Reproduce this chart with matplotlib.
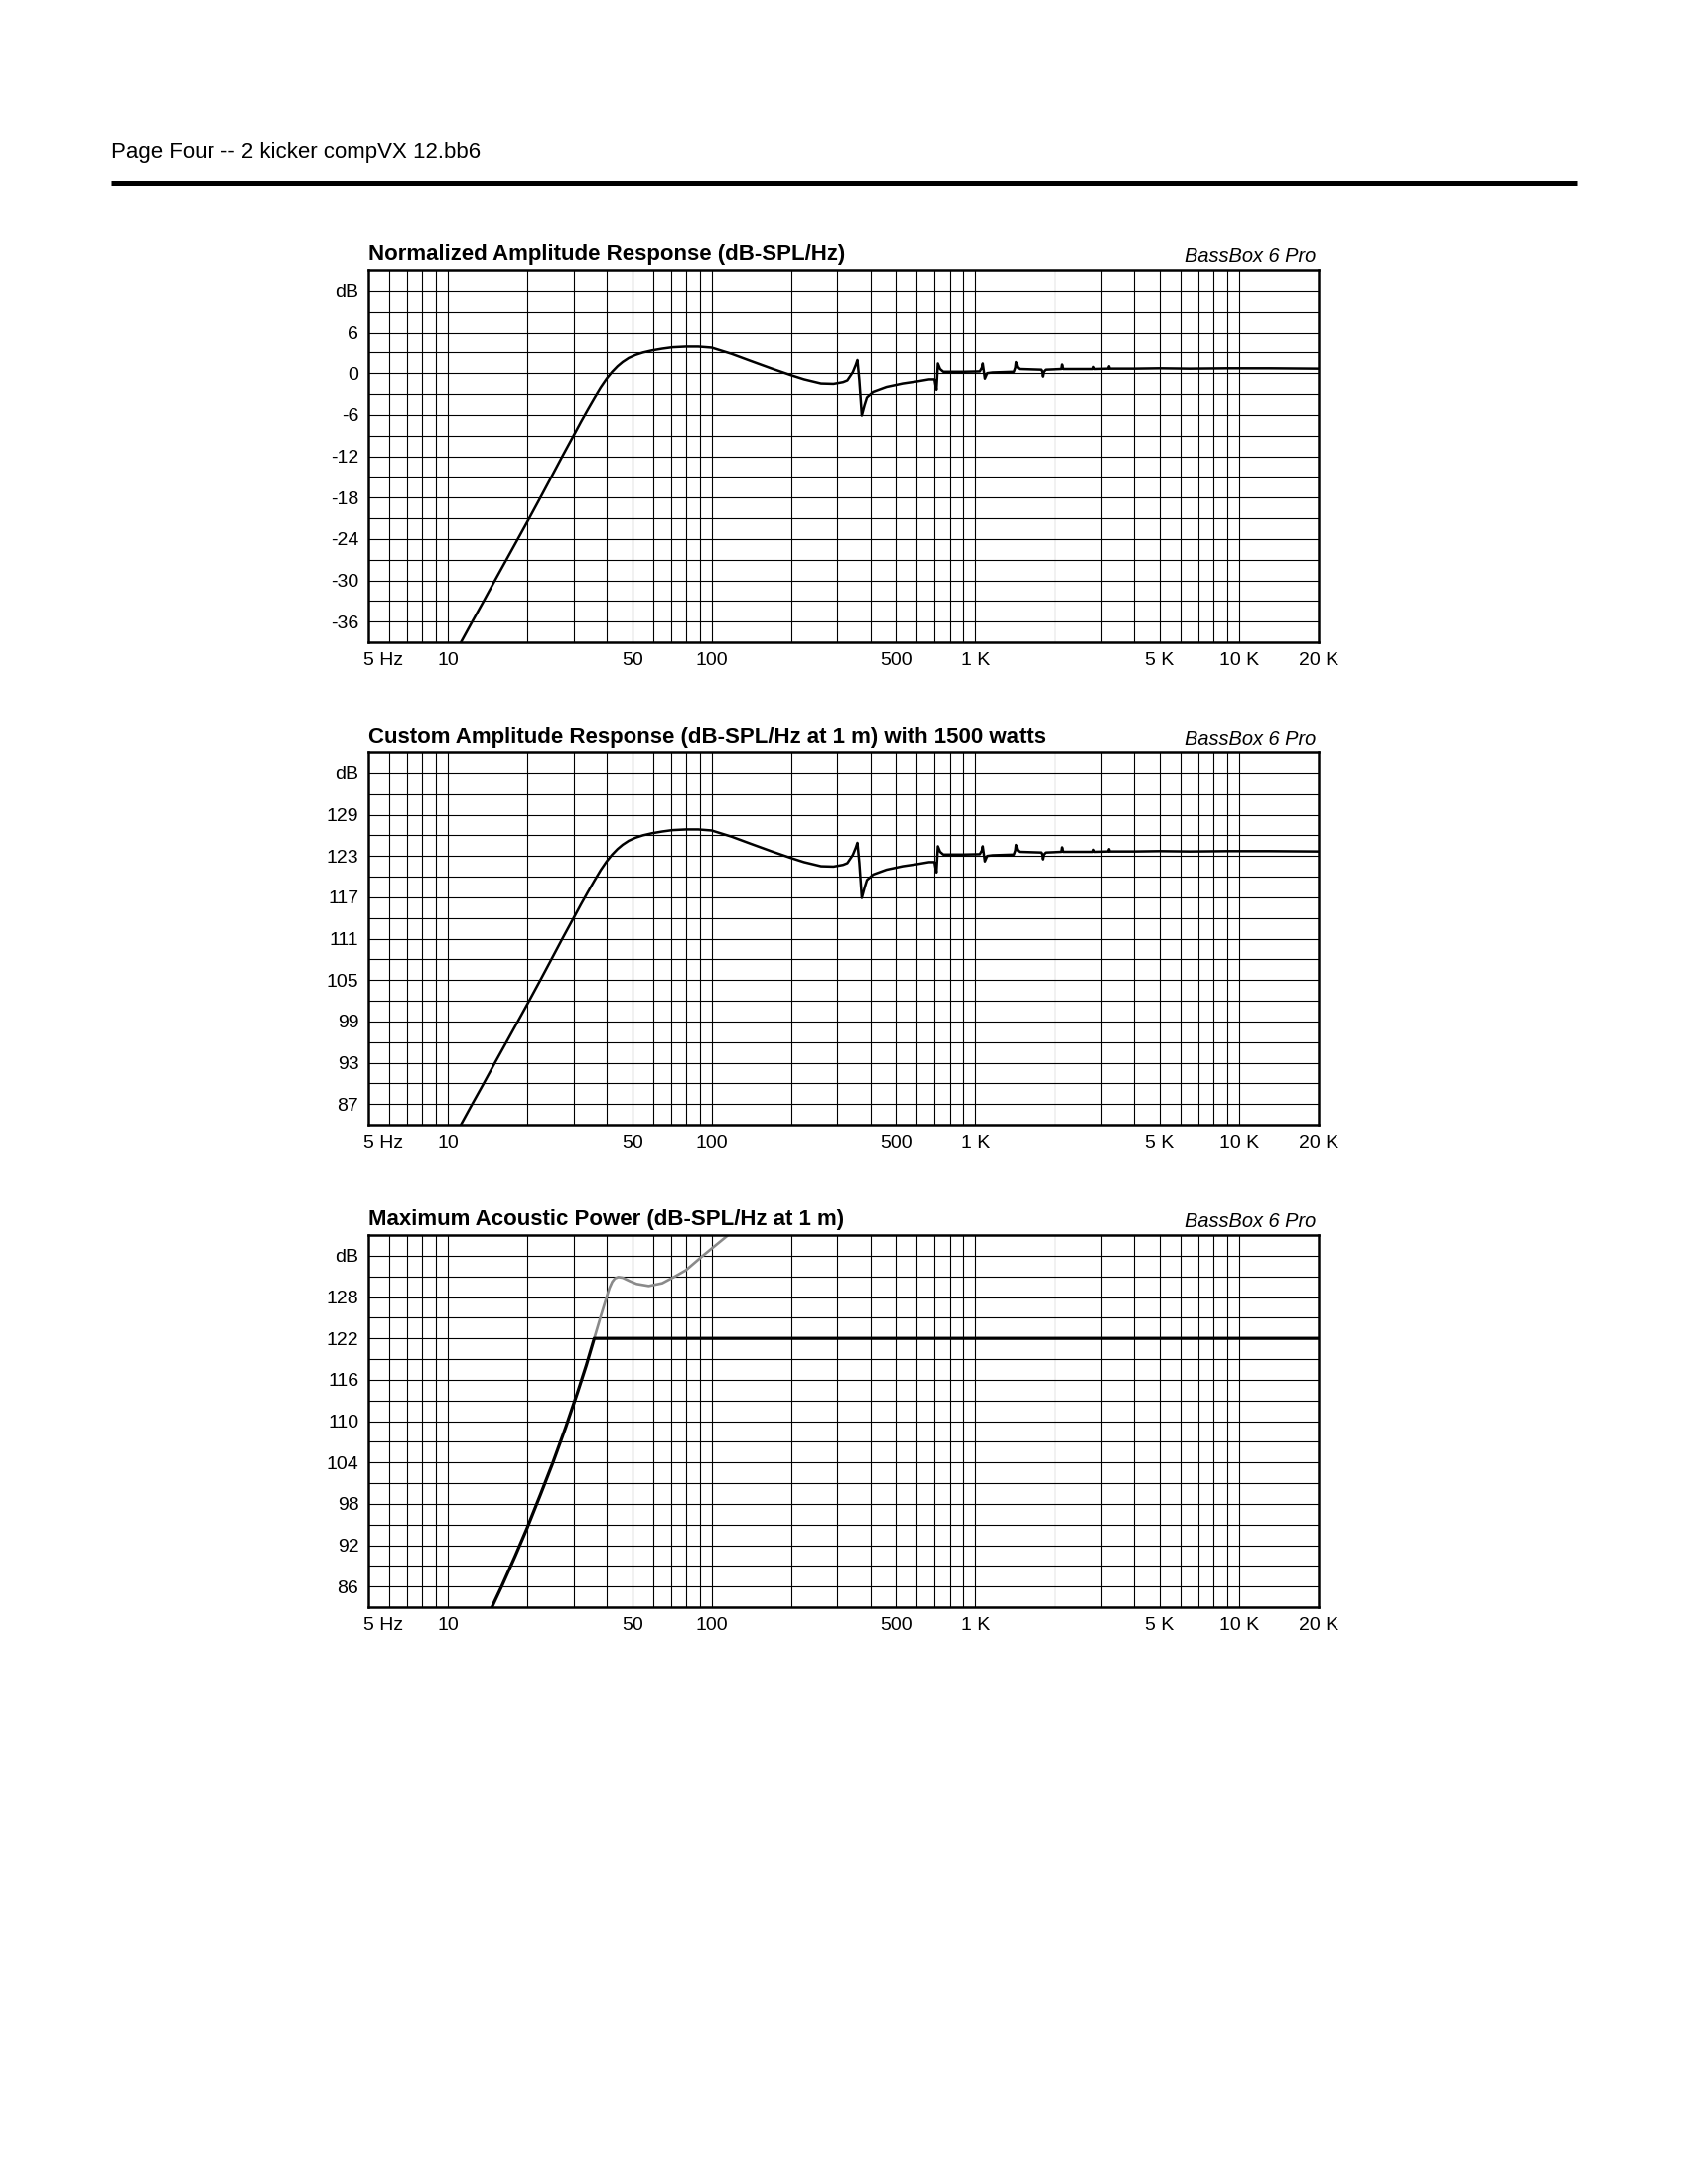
import matplotlib
matplotlib.use("Agg")
import matplotlib.pyplot as plt
from matplotlib.lines import Line2D
from matplotlib.ticker import LogLocator, MultipleLocator, NullFormatter
from matplotlib.transforms import ScaledTranslation

plt.rcParams['font.family'] = ['Liberation Sans', 'DejaVu Sans']

# --- dati ---
# risposta normalizzata (dB-SPL/Hz)
norm_hz = [11.0, 12.3, 13.6, 15.1, 16.8, 18.5, 20.5, 22.6, 24.8, 27.2, 29.8, 32.0,
           34.0, 36.0, 38.0, 40.0, 42.0, 44.0, 46.0, 48.5, 51.5, 55.0, 59.5, 65.0,
           71.0, 80, 89, 100, 119, 140, 168,
           200, 224, 260, 290, 315, 327, 343, 352, 357, 363, 371, 380, 388, 410,
           460, 530, 600, 667, 700, 705, 712, 721, 735, 756, 900, 1040, 1060,
           1067, 1080, 1087, 1110, 1163, 1400, 1418, 1426, 1440, 1466, 1770, 1785,
           1795, 1810, 1840, 2125, 2139, 2160, 2400, 2790, 2805, 2830, 3190, 3207,
           3230, 4000, 5000, 6500, 9000, 13000, 20000]
norm_db = [-39.6, -36.2, -33.2, -30.0, -26.8, -23.9, -20.8, -17.8, -14.9, -12.0, -9.2, -7.0,
           -5.2, -3.55, -2.05, -0.8, 0.2, 1.0, 1.62, 2.2, 2.65, 3.0, 3.3, 3.55,
           3.75, 3.85, 3.85, 3.7, 2.8, 1.8, 0.7,
           -0.3, -0.9, -1.5, -1.55, -1.3, -1.05, 0.15, 1.2, 1.9, -1.0, -6.1, -4.6, -3.5, -2.7,
           -2.0, -1.5, -1.2, -0.9, -0.9, -1.6, -2.4, 1.4, 0.6, 0.2, 0.2, 0.25, 0.8,
           1.4, 0.0, -0.8, 0.0, 0.1, 0.2, 0.8, 1.6, 0.9, 0.6, 0.5, 0.2,
           -0.5, 0.2, 0.5, 0.6, 1.25, 0.6, 0.6, 0.6, 0.9, 0.6, 0.65, 1.0,
           0.65, 0.65, 0.7, 0.65, 0.7, 0.7, 0.65]

# risposta con 1500 watt (dB-SPL/Hz a 1 m)
custom_db = [83.4, 86.8, 89.8, 93.0, 96.2, 99.1, 102.2, 105.2, 108.1, 111.0, 113.8, 116.0,
             117.8, 119.45, 120.95, 122.2, 123.2, 124.0, 124.62, 125.2, 125.65, 126.0, 126.3, 126.55,
             126.75, 126.85, 126.85, 126.7, 125.8, 124.8, 123.7,
             122.7, 122.1, 121.5, 121.45, 121.7, 121.95, 123.15, 124.2, 124.9, 122.0, 116.9, 118.4, 119.5, 120.3,
             121.0, 121.5, 121.8, 122.1, 122.1, 121.4, 120.6, 124.4, 123.6, 123.2, 123.2, 123.25, 123.8,
             124.4, 123.0, 122.2, 123.0, 123.1, 123.2, 123.8, 124.6, 123.9, 123.6, 123.5, 123.2,
             122.5, 123.2, 123.5, 123.6, 124.25, 123.6, 123.6, 123.6, 123.9, 123.6, 123.65, 124.0,
             123.65, 123.65, 123.7, 123.65, 123.7, 123.7, 123.65]

# potenza acustica massima (dB-SPL/Hz a 1 m)
max_spl_hz = [14.3, 14.7, 16.0, 18.0, 20.0, 22.5, 25.0, 28.0, 31.0, 33.5, 35.9, 20000]
max_spl_db = [82.0, 83.0, 86.0, 90.4, 94.5, 99.4, 103.9, 109.1, 114.1, 118.1, 122.0, 122.0]
excursion_hz = [35.9, 38.0, 40.0, 41.0, 42.0, 43.0, 44.3, 46.0, 49.0, 52.0, 57.8, 65.0,
                72.8, 80.0, 92.7, 115.6, 125.0]
excursion_db = [122.0, 125.2, 128.0, 129.3, 130.2, 130.7, 130.9, 130.8, 130.3, 129.9, 129.6, 130.0,
                131.0, 131.9, 134.0, 137.0, 138.2]

x_ticks = [5, 10, 50, 100, 500, 1000, 5000, 10000, 20000]
x_tick_labels = ["5 Hz", "10", "50", "100", "500", "1 K", "5 K", "10 K", "20 K"]

W, H = 1700, 2200
fig = plt.figure(figsize=(17, 22), dpi=100)

# intestazione della pagina
fig.text(112 / W, 1 - 159 / H, "Page Four -- 2 kicker compVX 12.bb6",
         fontsize=16, ha='left', va='baseline')
fig.add_artist(Line2D([112 / W, 1588 / W], [1 - 184 / H] * 2, color='black',
                      lw=3.6, solid_capstyle='butt'))

LEFT = 371 / W
WIDTH = (1328 - 371) / W
HEIGHT = 375 / H


def pannello(top_px, y_lo, y_hi, y_ticks, title):
    ax = fig.add_axes([LEFT, 1 - (top_px + 375) / H, WIDTH, HEIGHT])
    ax.set_xscale('log')
    ax.set_xlim(5, 20000)
    ax.set_ylim(y_lo, y_hi)
    ax.set_xticks(x_ticks)
    ax.set_xticklabels(x_tick_labels)
    ax.xaxis.set_minor_locator(LogLocator(base=10, subs=range(1, 10), numticks=30))
    ax.xaxis.set_minor_formatter(NullFormatter())
    ax.set_yticks(y_ticks)
    ax.set_yticklabels([str(v) for v in y_ticks[:-1]] + ["dB"])
    ax.yaxis.set_minor_locator(MultipleLocator(3, offset=y_lo % 3))
    ax.tick_params(which='both', length=0)
    ax.tick_params(axis='x', pad=7, labelsize=14)
    ax.tick_params(axis='y', pad=7, labelsize=14)
    ax.grid(which='both', color='black', lw=0.8)
    for s in ax.spines.values():
        s.set_linewidth(1.8)
    # "5 Hz" parte un po' a sinistra del bordo
    lab = ax.get_xticklabels()[0]
    lab.set_horizontalalignment('left')
    lab.set_transform(lab.get_transform() + ScaledTranslation(-5 / 100, 0, fig.dpi_scale_trans))
    ax.annotate(title, xy=(0, 1), xycoords='axes fraction', xytext=(0, 7),
                textcoords='offset points', ha='left', va='baseline',
                fontsize=16, fontweight='bold')
    ax.annotate("BassBox 6 Pro", xy=(1, 1), xycoords='axes fraction', xytext=(-2, 6),
                textcoords='offset points', ha='right', va='baseline',
                fontsize=14.4, style='italic')
    return ax


ax1 = pannello(272, -39, 15, list(range(-36, 13, 6)), "Normalized Amplitude Response (dB-SPL/Hz)")
ax1.plot(norm_hz, norm_db, color='black', lw=1.8)

ax2 = pannello(758, 84, 138, list(range(87, 136, 6)),
               "Custom Amplitude Response (dB-SPL/Hz at 1 m) with 1500 watts")
ax2.plot(norm_hz, custom_db, color='black', lw=1.8)

ax3 = pannello(1244, 83, 137, list(range(86, 135, 6)), "Maximum Acoustic Power (dB-SPL/Hz at 1 m)")
ax3.plot(excursion_hz, excursion_db, color='#8a8a8a', lw=1.9)
ax3.plot(max_spl_hz, max_spl_db, color='black', lw=2.3)

fig.savefig("out.png", dpi=100)
